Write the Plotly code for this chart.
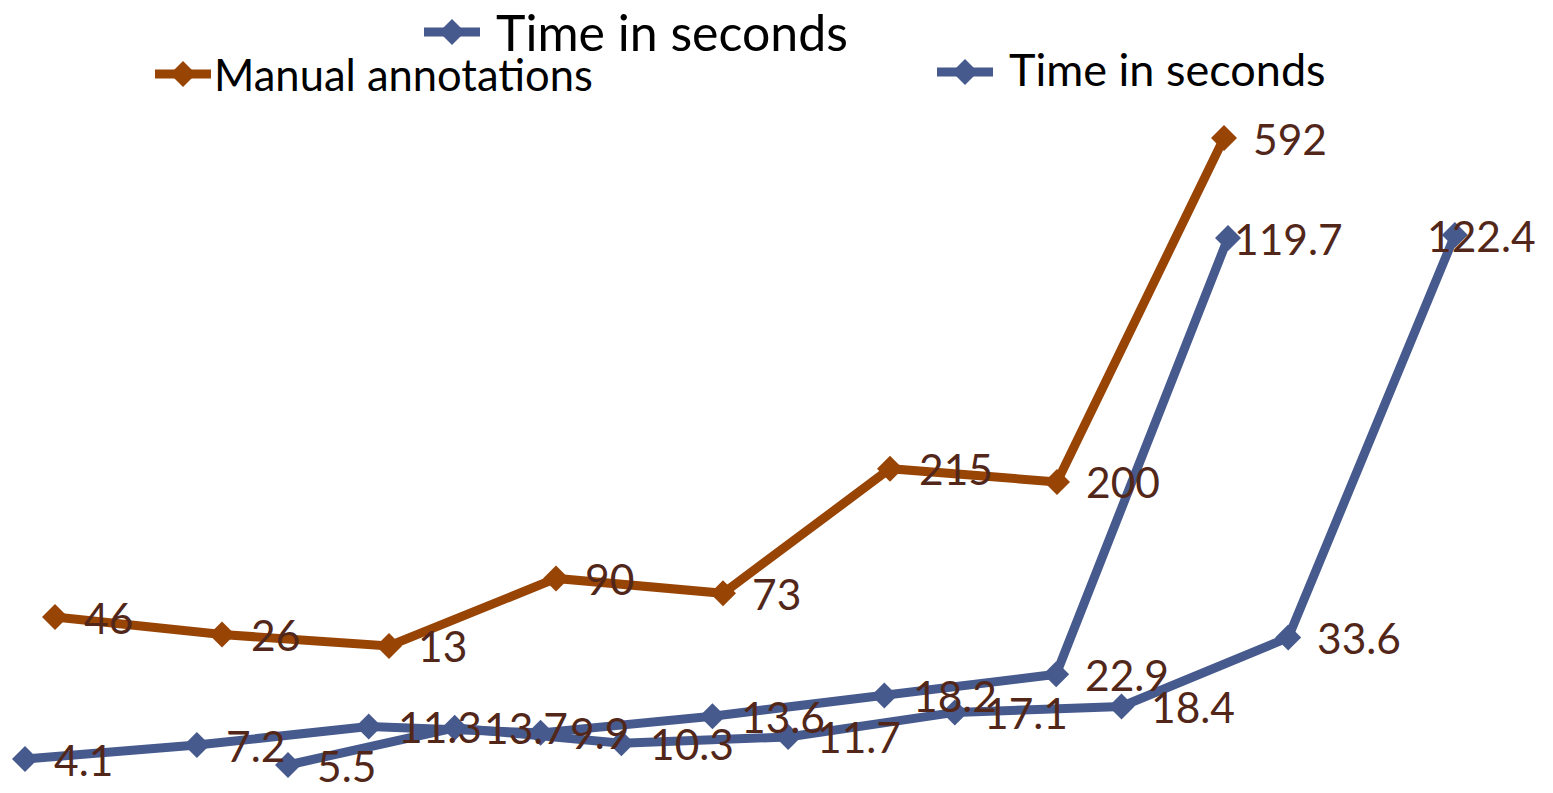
import plotly.graph_objects as go

# ---- data -------------------------------------------------------------
steps = [1, 2, 3, 4, 5, 6, 7, 8]

manual_annotations = [46, 26, 13, 90, 73, 215, 200, 592]
time_seconds_a = [4.1, 7.2, 11.3, 9.9, 13.6, 18.2, 22.9, 119.7]
time_seconds_b = [5.5, 13.7, 10.3, 11.7, 17.1, 18.4, 33.6, 122.4]

series_names = ["Manual annotations", "Time in seconds", "Time in seconds"]

# ---- styling ----------------------------------------------------------
W, H = 1553, 793
ORANGE = "#984405"
BLUE = "#475A8E"
LABEL_COLOR = "#522719"
FONT = "Lato, 'Open Sans', sans-serif"
LABEL_SIZE = 42.5
LINE_W = 9
MARKER_SIZE = 20
LABEL_GAP = 27  # px between a point and its value label

# the two top points carry labels pulled back over the marker
label_nudge = {(1, 7): -23, (2, 7): -57}


def x_range(first_px, step_px):
    """Axis range so that step 1 lands on first_px and steps are step_px apart."""
    lo = steps[0] - first_px / step_px
    hi = steps[0] + (W - first_px) / step_px
    return [lo, hi]


def y_range(v_a, px_a, v_b, px_b):
    """Axis range so that value v_a sits at pixel row px_a and v_b at px_b."""
    per_px = (v_b - v_a) / (px_a - px_b)
    return [v_a - (H - px_a) * per_px, v_a + px_a * per_px]


panels = [
    dict(values=manual_annotations, color=ORANGE,
         xr=x_range(55, 167), yr=y_range(46, 617, 592, 138)),
    dict(values=time_seconds_a, color=BLUE,
         xr=x_range(25, 171.86), yr=y_range(4.1, 759, 119.7, 238)),
    dict(values=time_seconds_b, color=BLUE,
         xr=x_range(288, 166.7), yr=y_range(5.5, 765, 122.4, 235)),
]

fig = go.Figure()
annotations = []
layout_axes = {}

for k, (panel, name) in enumerate(zip(panels, series_names)):
    xa = "x" if k == 0 else f"x{k + 1}"
    ya = "y" if k == 0 else f"y{k + 1}"
    fig.add_trace(go.Scatter(
        x=steps, y=panel["values"], name=name,
        xaxis=xa, yaxis=ya, mode="lines+markers",
        line=dict(color=panel["color"], width=LINE_W),
        marker=dict(symbol="diamond", size=MARKER_SIZE, color=panel["color"]),
        showlegend=False, hoverinfo="x+y+name",
    ))
    xkey = "xaxis" if k == 0 else f"xaxis{k + 1}"
    ykey = "yaxis" if k == 0 else f"yaxis{k + 1}"
    xa_cfg = dict(range=panel["xr"], visible=False, fixedrange=True)
    ya_cfg = dict(range=panel["yr"], visible=False, fixedrange=True)
    if k > 0:
        xa_cfg.update(overlaying="x", anchor=ya)
        ya_cfg.update(overlaying="y", anchor=xa)
    layout_axes[xkey] = xa_cfg
    layout_axes[ykey] = ya_cfg

    for i, (s, v) in enumerate(zip(steps, panel["values"])):
        annotations.append(dict(
            x=s, y=v, xref=xa, yref=ya, text=f"{v:g}",
            showarrow=False, xanchor="left", yanchor="middle",
            xshift=LABEL_GAP + label_nudge.get((k, i), 0), yshift=0,
            font=dict(family=FONT, size=LABEL_SIZE, color=LABEL_COLOR),
        ))

# ---- legend keys ------------------------------------------------------
legend_items = [
    # (name, color, key centre x, key y, text x, text y, font size)
    (series_names[2], BLUE, 452, 32, 494, 32, 50),
    (series_names[0], ORANGE, 183, 74, 212, 74, 43.5),
    (series_names[1], BLUE, 965, 72, 1007, 69, 45),
]

shapes = []
for name, color, kx, ky, tx, ty, fs in legend_items:
    ax, ay = kx / W, 1 - ky / H
    shapes.append(dict(
        type="line", xref="paper", yref="paper",
        xsizemode="pixel", ysizemode="pixel", xanchor=ax, yanchor=ay,
        x0=-28, x1=28, y0=0, y1=0,
        line=dict(color=color, width=9),
    ))
    shapes.append(dict(
        type="path", xref="paper", yref="paper",
        xsizemode="pixel", ysizemode="pixel", xanchor=ax, yanchor=ay,
        path="M -13,0 L 0,13 L 13,0 L 0,-13 Z",
        fillcolor=color, line=dict(color=color, width=0),
    ))
    annotations.append(dict(
        x=tx / W, y=1 - ty / H, xref="paper", yref="paper",
        text=name, showarrow=False, xanchor="left", yanchor="middle",
        font=dict(family=FONT, size=fs, color="#000000"),
    ))

fig.update_layout(
    width=W, height=H, autosize=False,
    margin=dict(l=0, r=0, t=0, b=0, pad=0),
    paper_bgcolor="white", plot_bgcolor="white",
    showlegend=False,
    annotations=annotations, shapes=shapes,
    **layout_axes,
)

fig.write_html("out.html", config=dict(displayModeBar=False))
